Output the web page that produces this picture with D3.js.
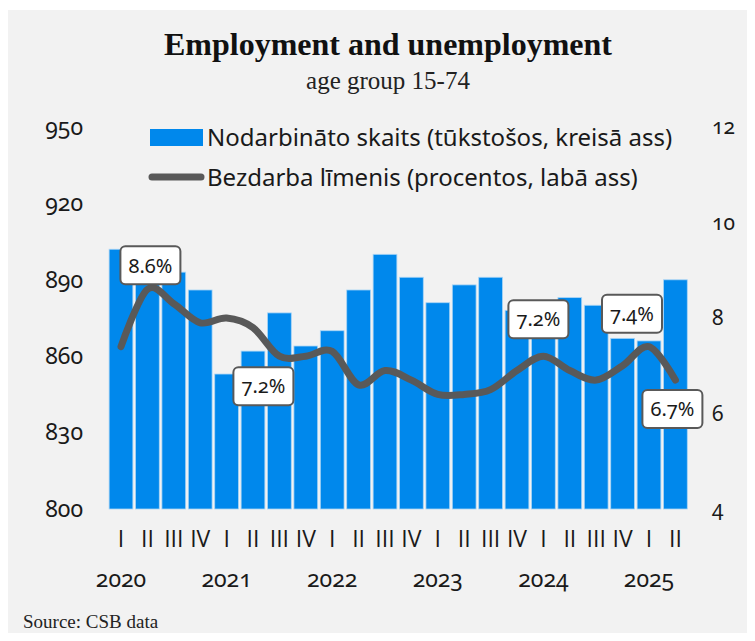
<!DOCTYPE html>
<html>
<head>
<meta charset="utf-8">
<script src="https://cdn.jsdelivr.net/npm/d3@7"></script>
<style>
  html, body { margin: 0; padding: 0; background: #ffffff; }
  svg { display: block; }
  .sans { font-family: "Noto Sans", "Open Sans", sans-serif; font-variant-numeric: oldstyle-nums; font-feature-settings: "onum" 1; }
  .plain { font-family: "Noto Sans", "Open Sans", sans-serif; }
  .roman { font-family: "Open Sans", "Lato", sans-serif; }
  .serif { font-family: "Liberation Serif", "DejaVu Serif", serif; }
</style>
</head>
<body>
<svg id="chart" width="755" height="641"></svg>
<script>
// ---- data ----
const quarters = ["I","II","III","IV","I","II","III","IV","I","II","III","IV","I","II","III","IV","I","II","III","IV","I","II"];
const years = ["2020","2021","2022","2023","2024","2025"];
const employed = [902, 897, 893, 886, 853, 862, 877, 864, 870, 886, 900, 891, 881, 888, 891, 878, 876, 883, 880, 867, 866, 890];
const unemployment = [7.4, 8.6, 8.3, 7.9, 8.0, 7.8, 7.2, 7.2, 7.3, 6.6, 6.9, 6.7, 6.4, 6.4, 6.5, 6.9, 7.2, 6.9, 6.7, 7.0, 7.4, 6.7];
const leftTicks = [800, 830, 860, 890, 920, 950];
const rightTicks = [4, 6, 8, 10, 12];
const labelled = [1, 6, 16, 20, 21];

const title = "Employment and unemployment";
const subtitle = "age group 15-74";
const legend1 = "Nodarbināto skaits (tūkstošos, kreisā ass)";
const legend2 = "Bezdarba līmenis (procentos, labā ass)";
const source = "Source: CSB data";

// ---- layout ----
const plot = { left: 107.8, right: 688.6, top: 127, bottom: 509 };
const barColor = "#0088ec";
const lineColor = "#595959";
const textColor = "#1a1a1a";

// annotation placement (offset of box centre from the point)
const calloutOffset = {1: [3, -24], 6: [-16, 30], 16: [-5, -37], 20: [-17, -33], 21: [-3, 29]};

const svg = d3.select("#chart");

svg.append("rect").attr("x", 8).attr("y", 10).attr("width", 739).attr("height", 623).attr("fill", "#f2f2f2");

const idx = d3.range(employed.length);
const x = d3.scaleBand().domain(idx).range([plot.left, plot.right]).paddingInner(0.1).paddingOuter(0.05);
const yL = d3.scaleLinear().domain([800, 950]).range([plot.bottom, plot.top]);
const yR = d3.scaleLinear().domain([4, 12]).range([plot.bottom, plot.top]);

// title
svg.append("text").attr("class", "serif").attr("x", 388).attr("y", 55)
  .attr("text-anchor", "middle").attr("font-size", 32).attr("font-weight", "bold")
  .attr("fill", "#111").text(title);
svg.append("text").attr("class", "serif").attr("x", 388).attr("y", 89)
  .attr("text-anchor", "middle").attr("font-size", 25)
  .attr("fill", "#222").text(subtitle);

// bars
svg.append("g").selectAll("rect").data(idx).join("rect")
  .attr("x", i => x(i))
  .attr("width", x.bandwidth())
  .attr("y", i => yL(employed[i]))
  .attr("height", i => yL(800) - yL(employed[i]))
  .attr("fill", barColor)
  .attr("stroke", "#a9d5f6").attr("stroke-width", 0.8);

// left axis
const axL = d3.axisLeft(yL).tickValues(leftTicks).tickSize(0).tickPadding(0);
const gL = svg.append("g").attr("transform", `translate(83,0)`).call(axL);
gL.select(".domain").remove();
gL.selectAll("text").attr("class", "sans").attr("font-size", 23).attr("fill", textColor).attr("dy", "0.32em");

// right axis
const axR = d3.axisRight(yR).tickValues(rightTicks).tickSize(0).tickPadding(0);
const gR = svg.append("g").attr("transform", `translate(712,0)`).call(axR);
gR.select(".domain").remove();
gR.selectAll("text").attr("class", "sans").attr("font-size", 21).attr("fill", textColor).attr("dy", "0.32em");

// x axis: quarters
const axX = d3.axisBottom(x).tickFormat(i => quarters[i]).tickSize(0).tickPadding(0);
const gX = svg.append("g").attr("transform", `translate(0,${plot.bottom + 22})`).call(axX);
gX.select(".domain").remove();
gX.selectAll("text").attr("class", "roman").attr("font-size", 23).attr("fill", textColor).attr("dy", "0.71em");

// years under first quarter
svg.append("g").selectAll("text").data(years).join("text")
  .attr("class", "sans")
  .attr("x", (d, k) => x(k * 4) + x.bandwidth() / 2)
  .attr("y", 587)
  .attr("text-anchor", "middle").attr("font-size", 23).attr("fill", textColor)
  .text(d => d);

// line
const line = d3.line()
  .x(i => x(i) + x.bandwidth() / 2)
  .y(i => yR(unemployment[i]))
  .curve(d3.curveCardinal.tension(0));
svg.append("path").datum(idx).attr("d", line)
  .attr("fill", "none").attr("stroke", lineColor).attr("stroke-width", 7)
  .attr("stroke-linecap", "round").attr("stroke-linejoin", "round");

// callouts
const gC = svg.append("g");
labelled.forEach(i => {
  const px = x(i) + x.bandwidth() / 2, py = yR(unemployment[i]);
  const [dx, dy] = calloutOffset[i];
  const cx = px + dx, cy = py + dy;
  const bw = 60, bh = 38;
  gC.append("rect").attr("x", cx - bw / 2).attr("y", cy - bh / 2).attr("width", bw).attr("height", bh)
    .attr("rx", 5).attr("fill", "#ffffff").attr("stroke", lineColor).attr("stroke-width", 2);
  gC.append("text").attr("class", "sans").attr("x", cx).attr("y", cy).attr("dy", "0.36em")
    .attr("text-anchor", "middle").attr("font-size", 20).attr("fill", textColor)
    .text(unemployment[i].toFixed(1) + "%");
});

// legend
const lg = svg.append("g");
lg.append("rect").attr("x", 150).attr("y", 129).attr("width", 53).attr("height", 17).attr("fill", barColor);
lg.append("text").attr("class", "plain").attr("x", 207).attr("y", 146).attr("font-size", 24).attr("fill", textColor).text(legend1);
lg.append("line").attr("x1", 152).attr("x2", 201).attr("y1", 177).attr("y2", 177)
  .attr("stroke", lineColor).attr("stroke-width", 7).attr("stroke-linecap", "round");
lg.append("text").attr("class", "plain").attr("x", 207).attr("y", 186).attr("font-size", 24).attr("fill", textColor).text(legend2);

// source
svg.append("text").attr("class", "serif").attr("x", 23).attr("y", 628).attr("font-size", 19).attr("fill", "#222").text(source);
</script>
</body>
</html>
